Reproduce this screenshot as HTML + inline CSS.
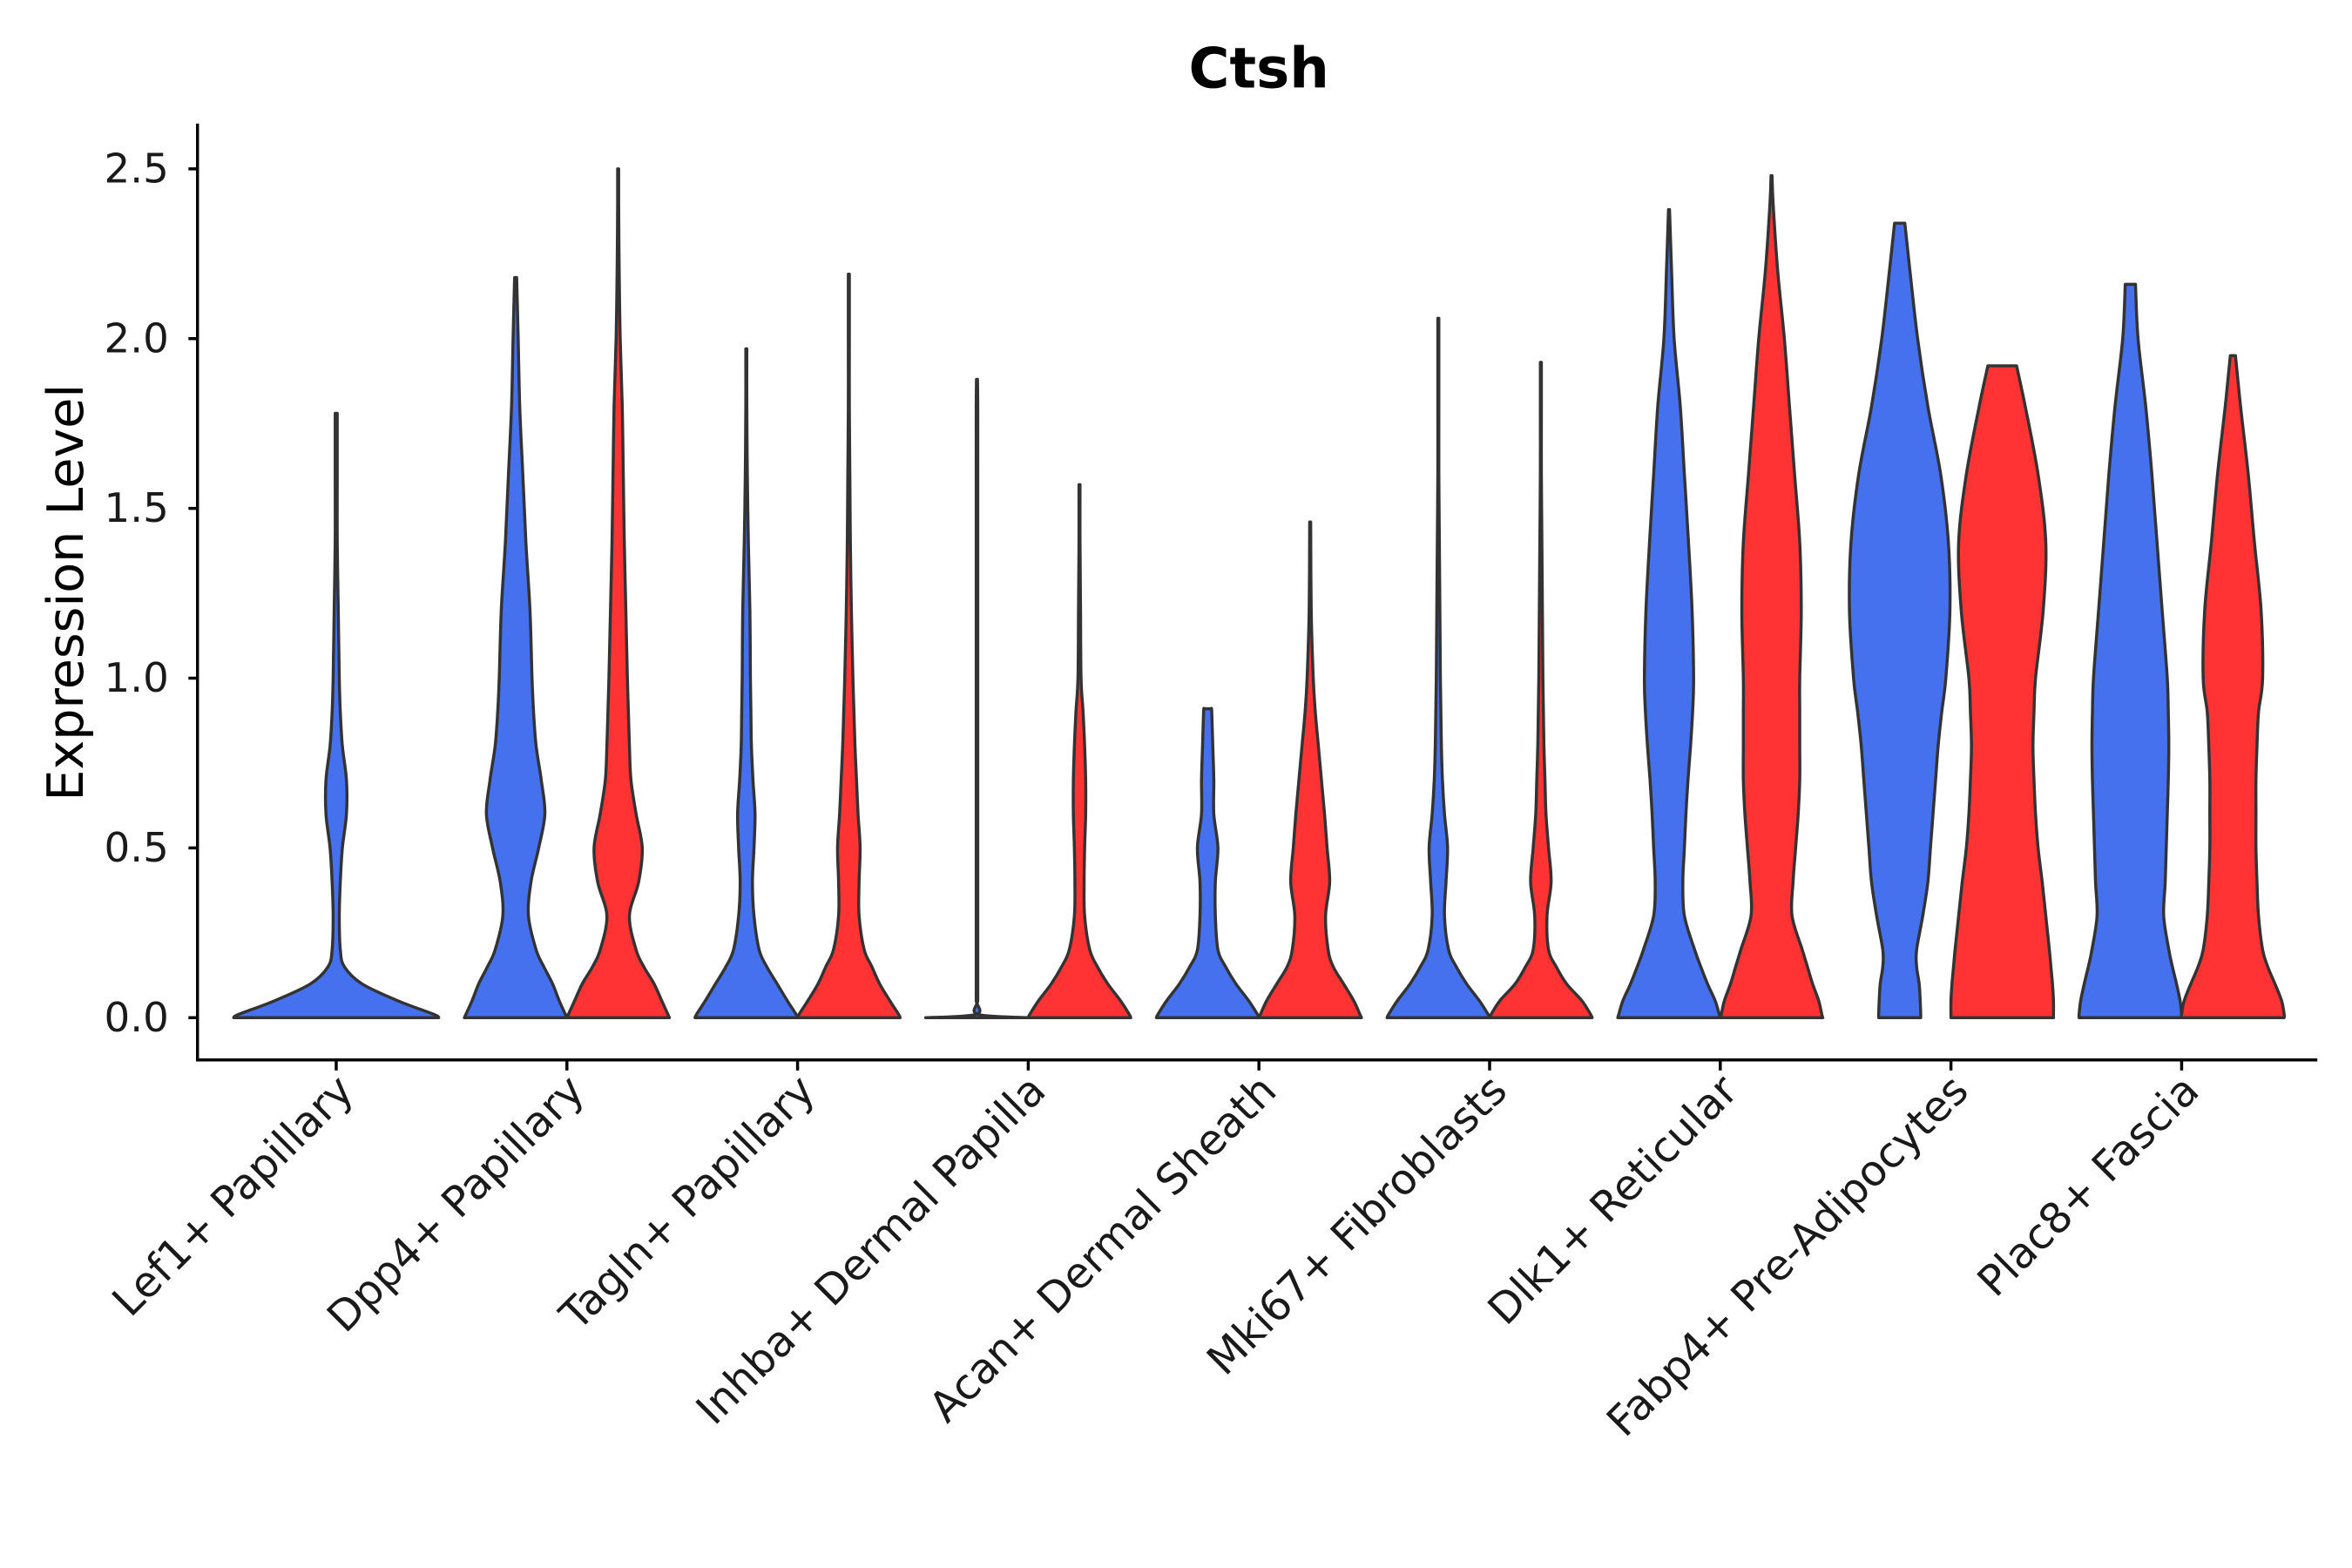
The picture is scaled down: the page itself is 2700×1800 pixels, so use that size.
<!DOCTYPE html>
<html><head><meta charset="utf-8"><style>
html,body{margin:0;padding:0;background:#fff;}
svg{display:block;font-family:"DejaVu Sans","Liberation Sans",sans-serif;}
</style></head><body>
<svg id="chart" width="2700" height="1800" viewBox="0 0 1560 1040" xmlns="http://www.w3.org/2000/svg">
<rect width="1560" height="1040" fill="#fff"/>
<text x="835" y="58" text-anchor="middle" font-size="37" font-weight="bold">Ctsh</text>
<text transform="translate(55,393) rotate(-90)" text-anchor="middle" font-size="33">Expression Level</text>
<g id="violins"></g>
<g id="axes"></g>
</svg>
<script>
const categories = ["Lef1+ Papillary","Dpp4+ Papillary","Tagln+ Papillary","Inhba+ Dermal Papilla","Acan+ Dermal Sheath","Mki67+ Fibroblasts","Dlk1+ Reticular","Fabp4+ Pre-Adipocytes","Plac8+ Fascia"];
const yTicks = [0, 0.5, 1.0, 1.5, 2.0, 2.5];
const yTickLabels = ["0.0","0.5","1.0","1.5","2.0","2.5"];
const densityGrid = [0,0.01,0.05,0.1,0.15,0.2,0.3,0.4,0.5,0.6,0.7,0.8,0.9,1.0,1.2,1.4,1.6,1.8,2.0,2.2,2.4];
const violinCategory = [0,1,1,2,2,3,3,4,4,5,5,6,6,7,7,8,8];
const violinGroup = [-1,0,1,0,1,0,1,0,1,0,1,0,1,0,1,0,1];
const violinMax = [1.78,2.18,2.5,1.97,2.19,1.88,1.57,0.91,1.46,2.06,1.93,2.38,2.48,2.34,1.92,2.16,1.95];
const violinTopWidth = [0.01,0.02,0.01,0.01,0.01,0.01,0.01,0.07,0.01,0.01,0.01,0.01,0.01,0.1,0.28,0.1,0.05];
const violinDensity = [
 [1,0.95,0.6,0.25,0.08,0.04,0.03,0.04,0.06,0.1,0.1,0.06,0.04,0.03,0.02,0.01,0.01],
 [1,0.97,0.85,0.72,0.55,0.4,0.25,0.3,0.45,0.57,0.5,0.4,0.35,0.32,0.28,0.2,0.14,0.08,0.05],
 [1,0.97,0.85,0.7,0.5,0.35,0.22,0.4,0.47,0.35,0.25,0.22,0.2,0.18,0.15,0.12,0.1,0.08,0.04,0.02,0.01],
 [1,0.97,0.8,0.6,0.4,0.25,0.15,0.12,0.15,0.17,0.13,0.1,0.09,0.08,0.07,0.04,0.02,0.01],
 [1,0.97,0.8,0.6,0.45,0.3,0.2,0.2,0.22,0.18,0.15,0.12,0.1,0.08,0.05,0.03,0.02,0.01,0.01],
 [1,0.015,0.015,0.015,0.015,0.015,0.015,0.015,0.015,0.015,0.015,0.015,0.015,0.015,0.015,0.015,0.015,0.015],
 [1,0.97,0.8,0.55,0.35,0.2,0.1,0.09,0.1,0.12,0.12,0.1,0.07,0.03,0.02,0.01],
 [1,0.97,0.8,0.55,0.35,0.2,0.15,0.15,0.2,0.12,0.12,0.1,0.08],
 [1,0.97,0.85,0.65,0.45,0.35,0.3,0.38,0.33,0.28,0.22,0.16,0.1,0.06,0.02],
 [1,0.97,0.8,0.55,0.35,0.2,0.12,0.15,0.18,0.12,0.08,0.06,0.05,0.04,0.03,0.02,0.01,0.01,0.01],
 [1,0.97,0.8,0.5,0.3,0.15,0.12,0.2,0.15,0.1,0.08,0.06,0.05,0.04,0.03,0.02,0.01,0.01],
 [1,0.98,0.9,0.75,0.62,0.5,0.3,0.27,0.3,0.33,0.37,0.42,0.46,0.48,0.45,0.38,0.3,0.22,0.1,0.05],
 [1,0.98,0.92,0.8,0.7,0.6,0.4,0.42,0.47,0.52,0.55,0.55,0.55,0.55,0.58,0.55,0.45,0.35,0.25,0.12,0.03],
 [0.41,0.41,0.4,0.38,0.33,0.33,0.45,0.55,0.6,0.65,0.7,0.75,0.82,0.9,0.98,0.95,0.8,0.55,0.35,0.2],
 [1,1,1,0.98,0.95,0.92,0.85,0.78,0.7,0.65,0.62,0.6,0.62,0.65,0.8,0.85,0.7,0.45],
 [1,1,0.97,0.9,0.82,0.75,0.65,0.68,0.7,0.72,0.74,0.75,0.74,0.72,0.62,0.52,0.42,0.3,0.15],
 [1,1,0.95,0.82,0.68,0.58,0.5,0.47,0.45,0.45,0.45,0.47,0.5,0.58,0.55,0.42,0.3,0.15]
];
const groupColors = ["#4570EE","#FF3333"];

const NS = "http://www.w3.org/2000/svg";
const plotL = 131, plotR = 1537, plotB = 703, plotT = 82;
const y0px = 675, pxPerUnit = 225.2;
function yScale(v){ return y0px - v * pxPerUnit; }
const catStep = 153, cat0 = 223;
function xScale(i){ return cat0 + i * catStep; }
const dodge = 34;

function smoothPath(pts){
  let d = "M" + pts[0][0].toFixed(2) + "," + pts[0][1].toFixed(2);
  for (let i = 0; i < pts.length - 1; i++) {
    const p0 = pts[Math.max(0,i-1)], p1 = pts[i], p2 = pts[i+1], p3 = pts[Math.min(pts.length-1,i+2)];
    const c1 = [p1[0] + (p2[0]-p0[0])/6, p1[1] + (p2[1]-p0[1])/6];
    const c2 = [p2[0] - (p3[0]-p1[0])/6, p2[1] - (p3[1]-p1[1])/6];
    d += "C" + c1[0].toFixed(2) + "," + c1[1].toFixed(2) + " " + c2[0].toFixed(2) + "," + c2[1].toFixed(2) + " " + p2[0].toFixed(2) + "," + p2[1].toFixed(2);
  }
  return d;
}

const vg = document.getElementById("violins");
for (let k = 0; k < violinDensity.length; k++) {
  const g = violinGroup[k];
  const cx = xScale(violinCategory[k]) + (g < 0 ? 0 : (g === 0 ? -dodge : dodge));
  const half = g < 0 ? 68 : 34;
  const prof = [];
  const dens = violinDensity[k];
  for (let j = 0; j < dens.length && densityGrid[j] < violinMax[k]; j++) prof.push([densityGrid[j], dens[j]]);
  prof.push([violinMax[k], violinTopWidth[k]]);
  const right = prof.map(p => [cx + p[1]*half, yScale(p[0])]);
  const left = prof.slice().reverse().map(p => [cx - p[1]*half, yScale(p[0])]);
  let d = smoothPath(right);
  d += "L" + left[0][0].toFixed(2) + "," + left[0][1].toFixed(2);
  d += smoothPath(left).replace(/^M[^C]*/, "");
  d += "Z";
  const path = document.createElementNS(NS, "path");
  path.setAttribute("d", d);
  path.setAttribute("fill", groupColors[g < 0 ? 0 : g]);
  path.setAttribute("stroke", "#333");
  path.setAttribute("stroke-width", "2");
  path.setAttribute("stroke-linejoin", "round");
  
  
  vg.appendChild(path);
}

const ag = document.getElementById("axes");
function line(x1,y1,x2,y2,name){
  const l = document.createElementNS(NS,"line");
  l.setAttribute("x1",x1);l.setAttribute("y1",y1);l.setAttribute("x2",x2);l.setAttribute("y2",y2);
  l.setAttribute("stroke","#000");l.setAttribute("stroke-width","2");
  
  
  ag.appendChild(l);
}
line(plotL, plotT, plotL, plotB+1, "y-axis-line");
line(plotL-1, plotB, plotR, plotB, "x-axis-line");
yTicks.forEach((v,i) => {
  const y = yScale(v);
  line(plotL-6, y, plotL, y, "y-tick");
  const t = document.createElementNS(NS,"text");
  t.setAttribute("x", plotL-19); t.setAttribute("y", y+9);
  t.setAttribute("text-anchor","end"); t.setAttribute("font-size","27"); t.setAttribute("fill","#1a1a1a");
  t.textContent = yTickLabels[i];
  
  
  ag.appendChild(t);
});
categories.forEach((c,i) => {
  const x = xScale(i);
  line(x, plotB, x, plotB+7, "x-tick");
  const t = document.createElementNS(NS,"text");
  t.setAttribute("transform","translate(" + (x+13) + "," + (plotB+22) + ") rotate(-45)");
  t.setAttribute("text-anchor","end"); t.setAttribute("font-size","28"); t.setAttribute("fill","#1a1a1a");
  t.textContent = c;
  
  
  ag.appendChild(t);
});
</script>
</body></html>
